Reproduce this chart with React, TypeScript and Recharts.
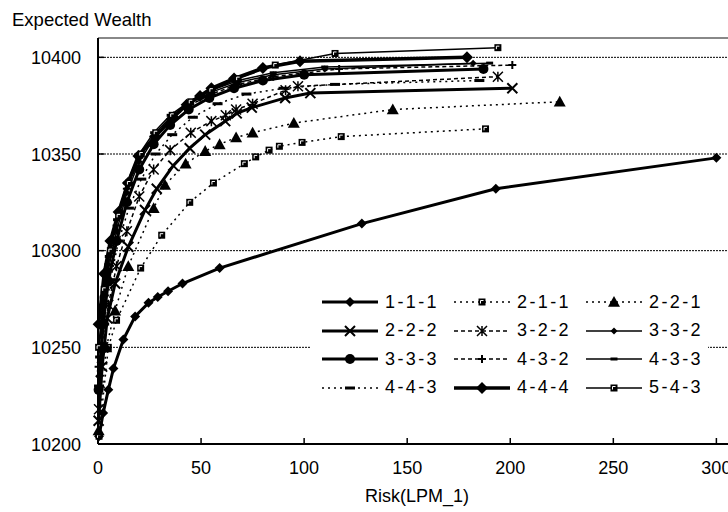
import React from 'react'
import {
  LineChart,
  Line,
  XAxis,
  YAxis,
  CartesianGrid,
  ReferenceLine,
  Legend,
} from 'recharts'

type Pt = [number, number]

// [risk (LPM_1), expected wealth] for each scenario tree
const s111: Pt[] = [
  [0.5, 10204], [2.5, 10216], [5, 10228], [7.5, 10239], [12.3, 10254], [18, 10266], [24.5, 10273],
  [29, 10276], [34, 10279], [41, 10283], [59, 10291], [128, 10314], [193, 10332], [300, 10348],
]
const s211: Pt[] = [
  [0.5, 10204], [5, 10250], [9, 10264], [20.7, 10291], [30.9, 10308], [44.5, 10325], [56, 10335],
  [71, 10345], [76.5, 10348.5], [83, 10352], [88, 10354], [99, 10356], [118, 10359], [188, 10363],
]
const s221: Pt[] = [
  [0.3, 10207], [4, 10250], [8.3, 10269], [14.7, 10292], [27, 10322], [32.5, 10334], [42.5, 10345],
  [52, 10351.5], [59, 10355], [67, 10358.5], [75, 10361], [95, 10366], [143, 10373], [224, 10377],
]
const s222: Pt[] = [
  [0.3, 10212], [2, 10240], [4.5, 10265], [8.3, 10283], [14.7, 10302], [22.8, 10321], [28.5, 10332],
  [36.5, 10344], [44.5, 10353], [52, 10360], [61.7, 10367], [67.3, 10371], [74.6, 10374],
  [90.8, 10379], [103, 10381.5], [201, 10384],
]
const s322: Pt[] = [
  [0.5, 10218], [2.5, 10250], [5, 10272], [9, 10292], [14, 10310], [20, 10328], [27, 10342],
  [35, 10352], [45, 10361], [55, 10367], [62, 10370], [67, 10373], [75, 10376], [91, 10383],
  [97, 10385], [194, 10390],
]
const s332: Pt[] = [
  [0.3, 10235], [2.5, 10268], [5, 10290], [9, 10310], [14, 10330], [20, 10346], [27, 10358],
  [35, 10368], [44, 10376], [55, 10382], [68, 10387], [85, 10391], [110, 10394], [182, 10397],
]
const s333: Pt[] = [
  [0.3, 10228], [2.5, 10262], [5, 10284], [9, 10305], [14, 10325], [20, 10342], [27, 10355],
  [35, 10365], [44, 10373], [54, 10379], [66, 10384], [80, 10388], [100, 10391], [187, 10394],
]
const s432: Pt[] = [
  [0.3, 10240], [2.5, 10272], [5, 10293], [9, 10313], [14, 10332], [20, 10348], [27, 10359],
  [35, 10368], [44, 10375], [55, 10381], [68, 10386], [85, 10390], [117, 10394], [201, 10396],
]
const s433: Pt[] = [
  [0.3, 10245], [2.5, 10276], [5, 10297], [9, 10316], [14, 10335], [20, 10350], [27, 10361],
  [35, 10370], [44, 10377], [55, 10383], [68, 10388], [85, 10392], [110, 10395], [190, 10397],
]
const s443: Pt[] = [
  [0.5, 10230], [3, 10262], [6, 10285], [10, 10305], [15, 10322], [21, 10337], [28, 10350],
  [36, 10360], [46, 10369], [58, 10376], [72, 10381], [90, 10384], [115, 10386], [185, 10388],
]
const s444: Pt[] = [
  [0.3, 10262], [3, 10288], [6, 10305], [10, 10320], [14.5, 10335], [19.6, 10349], [27.7, 10359],
  [36.6, 10369], [43, 10375.5], [49.5, 10380], [55, 10384], [66, 10389], [80, 10394.5],
  [98, 10398], [179, 10400],
]
const s543: Pt[] = [
  [0.3, 10250], [3, 10280], [6, 10300], [10, 10318], [15, 10335], [21, 10350], [28, 10361],
  [36, 10370], [45, 10377], [55, 10383], [68, 10389], [86, 10396], [115, 10402], [194, 10405],
]

const seriesNames = ['1-1-1', '2-1-1', '2-2-1', '2-2-2', '3-2-2', '3-3-2', '3-3-3', '4-3-2', '4-3-3', '4-4-3', '4-4-4', '5-4-3']
const seriesPoints = [s111, s211, s221, s222, s322, s332, s333, s432, s433, s443, s444, s543]
const xTicks = [0, 50, 100, 150, 200, 250, 300]
const yTicks = [10200, 10250, 10300, 10350, 10400]

type MarkerKind = 'diamond' | 'square' | 'triangle' | 'x' | 'star' | 'circle' | 'plus' | 'dash'
type LineStyle = { width: number; dash?: string; marker: MarkerKind; size: number }

const DOTTED = '2 4'
const DASHED = '4 3'

const lineStyles: Record<string, LineStyle> = {
  '1-1-1': { width: 3, marker: 'diamond', size: 10 },
  '2-1-1': { width: 1.5, dash: DOTTED, marker: 'square', size: 7 },
  '2-2-1': { width: 1.5, dash: DOTTED, marker: 'triangle', size: 12 },
  '2-2-2': { width: 3, marker: 'x', size: 10 },
  '3-2-2': { width: 1.5, dash: DASHED, marker: 'star', size: 10 },
  '3-3-2': { width: 1.5, marker: 'diamond', size: 7 },
  '3-3-3': { width: 3, marker: 'circle', size: 10 },
  '4-3-2': { width: 1.5, dash: DASHED, marker: 'plus', size: 8 },
  '4-3-3': { width: 1.5, marker: 'dash', size: 7 },
  '4-4-3': { width: 1.5, dash: DOTTED, marker: 'dash', size: 10 },
  '4-4-4': { width: 3.5, marker: 'diamond', size: 12 },
  '5-4-3': { width: 1.5, marker: 'square', size: 7 },
}

const FONT = '"Liberation Sans", Arial, sans-serif'
const TEXT_SIZE = 18

const Marker = ({ cx, cy, kind, size }: any) => {
  if (cx == null || cy == null) return null
  const h = size / 2
  switch (kind as MarkerKind) {
    case 'diamond':
      return <path d={`M${cx},${cy - h}L${cx + h},${cy}L${cx},${cy + h}L${cx - h},${cy}Z`} fill="#000" />
    case 'square':
      return (
        <g>
          <rect x={cx - h} y={cy - h} width={size} height={size} fill="#000" />
          <path d={`M${cx - h + 2},${cy + h - 2}V${cy - h + 2}H${cx + h - 2}`} stroke="#fff" strokeWidth={1} fill="none" />
        </g>
      )
    case 'triangle':
      return <path d={`M${cx},${cy - h}L${cx + h},${cy + h * 0.8}L${cx - h},${cy + h * 0.8}Z`} fill="#000" />
    case 'x':
      return (
        <path d={`M${cx - h},${cy - h}L${cx + h},${cy + h}M${cx + h},${cy - h}L${cx - h},${cy + h}`} stroke="#000" strokeWidth={2} />
      )
    case 'star':
      return (
        <path
          d={`M${cx - h},${cy - h}L${cx + h},${cy + h}M${cx + h},${cy - h}L${cx - h},${cy + h}M${cx},${cy - h}V${cy + h}`}
          stroke="#000"
          strokeWidth={1.5}
        />
      )
    case 'circle':
      return <circle cx={cx} cy={cy} r={h} fill="#000" />
    case 'plus':
      return <path d={`M${cx - h},${cy}H${cx + h}M${cx},${cy - h}V${cy + h}`} stroke="#000" strokeWidth={2} />
    case 'dash':
      return <rect x={cx - h} y={cy - 1.5} width={size} height={3} fill="#000" />
  }
  return null
}

const XTick = ({ x, y, payload }: any) => (
  <g>
    <line x1={x} x2={x} y1={y} y2={y - 6} stroke="#000" strokeWidth={1.5} />
    <text x={x} y={y + 30} textAnchor="middle" fontSize={TEXT_SIZE} fontFamily={FONT} fill="#000">
      {payload.value}
    </text>
  </g>
)

const YTick = ({ x, y, payload }: any) => (
  <g>
    <line x1={x} x2={x + 6} y1={y} y2={y} stroke="#000" strokeWidth={1.5} />
    <text x={x - 17} y={y + 6.5} textAnchor="end" fontSize={TEXT_SIZE} fontFamily={FONT} fill="#000">
      {payload.value}
    </text>
  </g>
)

const LegendSymbol = ({ name }: { name: string }) => {
  const st = lineStyles[name]
  return (
    <svg width={56} height={16} style={{ display: 'block' }}>
      <line x1={0} x2={56} y1={8} y2={8} stroke="#000" strokeWidth={st.width} strokeDasharray={st.dash} />
      <Marker cx={28} cy={8} kind={st.marker} size={st.size} />
    </svg>
  )
}

const LegendBox = () => (
  <div
    style={{
      display: 'grid',
      gridTemplateColumns: 'repeat(3, 132px)',
      width: 397,
      height: 114,
      boxSizing: 'border-box',
      paddingLeft: 11,
      background: '#fff',
      fontFamily: FONT,
      fontSize: TEXT_SIZE,
      color: '#000',
    }}
  >
    {seriesNames.map((n) => (
      <div key={n} style={{ display: 'flex', alignItems: 'center', height: 28 }}>
        <LegendSymbol name={n} />
        <span style={{ marginLeft: 7, letterSpacing: 2.4 }}>{n}</span>
      </div>
    ))}
  </div>
)

export default function App() {
  const series = seriesNames.map((name, i) => ({
    name,
    data: seriesPoints[i].map(([x, y]) => ({ x, y })),
  }))

  return (
    <div style={{ position: 'absolute', left: 0, top: 0, width: 728, height: 512, overflow: 'hidden', background: '#fff' }}>
      <div
        style={{ position: 'absolute', left: 12, top: 11, fontFamily: FONT, fontSize: 18.5, lineHeight: '18px', color: '#000' }}
      >
        Expected Wealth
      </div>
      <LineChart width={740} height={512} margin={{ top: 38, right: 3, bottom: 38, left: 0 }}>
        <CartesianGrid horizontal vertical={false} stroke="#000" strokeDasharray="2 1" />
        <XAxis
          type="number"
          dataKey="x"
          domain={[0, 310]}
          ticks={xTicks}
          height={30}
          tickSize={0}
          tickMargin={0}
          tickLine={false}
          tick={<XTick />}
          axisLine={{ stroke: '#000', strokeWidth: 2 }}
        />
        <YAxis
          type="number"
          dataKey="y"
          domain={[10200, 10410]}
          ticks={yTicks}
          width={98}
          tickSize={0}
          tickMargin={0}
          tickLine={false}
          tick={<YTick />}
          axisLine={{ stroke: '#000', strokeWidth: 2 }}
        />
        <ReferenceLine y={10410} stroke="#888" strokeWidth={2} />
        {series.map((s) => {
          const st = lineStyles[s.name]
          return (
            <Line
              key={s.name}
              name={s.name}
              data={s.data}
              dataKey="y"
              type="linear"
              stroke="#000"
              strokeWidth={st.width}
              strokeDasharray={st.dash}
              dot={<Marker kind={st.marker} size={st.size} />}
              activeDot={false}
              isAnimationActive={false}
            />
          )
        })}
        <Legend
          layout="vertical"
          align="center"
          verticalAlign="middle"
          wrapperStyle={{ left: 311, top: 288, width: 397, height: 114 }}
          content={<LegendBox />}
        />
      </LineChart>
      <div
        style={{
          position: 'absolute',
          left: 417,
          top: 487,
          transform: 'translateX(-50%)',
          fontFamily: FONT,
          fontSize: 18,
          lineHeight: '18px',
          color: '#000',
          whiteSpace: 'nowrap',
        }}
      >
        Risk(LPM_1)
      </div>
    </div>
  )
}
